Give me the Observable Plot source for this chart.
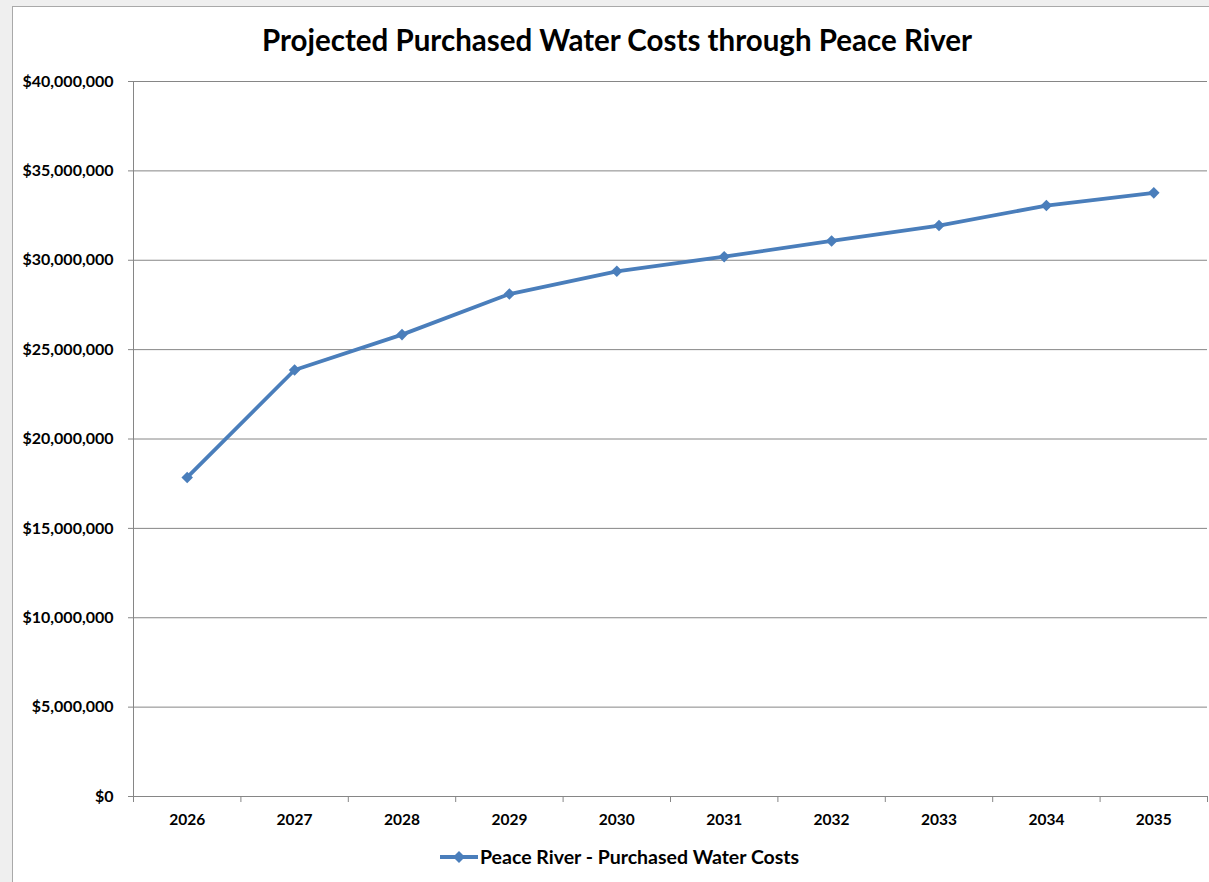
<!DOCTYPE html>
<html>
<head>
<meta charset="utf-8">
<script src="https://cdn.jsdelivr.net/npm/d3@7"></script>
<script src="https://cdn.jsdelivr.net/npm/@observablehq/plot@0.6"></script>
<style>
  html, body { margin: 0; padding: 0; background: #efefef; width: 1209px; height: 882px; overflow: hidden; font-family: Lato, "Open Sans", sans-serif; }
  #panel { position: absolute; left: 12px; top: 6px; width: 1197px; height: 876px; background: #fff; border-left: 1px solid #a9a9a9; border-top: 1px solid #a9a9a9; box-sizing: border-box; }
  #title { position: absolute; left: 6px; width: 1196px; top: 16px; text-align: center; font-weight: 700; font-size: 29.5px; line-height: 34px; color: #000; white-space: nowrap; }
  #chart { position: absolute; left: 0; top: 53px; }
  #legend { position: absolute; left: 427px; top: 838px; display: flex; align-items: center; font-weight: 700; font-size: 19.5px; color: #000; white-space: nowrap; }
  #legend svg { margin-right: 1px; }
</style>
</head>
<body>
<div id="panel">
  <div id="title">Projected Purchased Water Costs through Peace River</div>
  <div id="chart"></div>
  <div id="legend"></div>
</div>
<script>
const years = [2026, 2027, 2028, 2029, 2030, 2031, 2032, 2033, 2034, 2035];
const costs = [17850000, 23860000, 25840000, 28110000, 29380000, 30200000, 31080000, 31940000, 33060000, 33770000];
const yTicks = [0, 5000000, 10000000, 15000000, 20000000, 25000000, 30000000, 35000000, 40000000];
const seriesName = "Peace River - Purchased Water Costs";
const lineColor = "#4a7ebb";
const gridColor = "#868686";

const data = years.map((year, i) => ({year, cost: costs[i]}));
const boundaries = years.map(y => y - 0.5).concat([years[years.length - 1] + 0.5]);

const chart = Plot.plot({
  width: 1196,
  height: 776,
  marginTop: 21,
  marginLeft: 120,
  marginRight: 2,
  marginBottom: 40,
  x: {domain: [boundaries[0], boundaries[boundaries.length - 1]]},
  y: {domain: [0, 40000000]},
  style: {fontFamily: "Lato, 'Open Sans', sans-serif", fontSize: "15px", fontWeight: 700, color: "#000", background: "transparent", overflow: "visible"},
  marks: [
    Plot.gridY(yTicks, {stroke: gridColor, strokeOpacity: 1, strokeWidth: 1}),
    Plot.ruleX([boundaries[0]], {stroke: gridColor, strokeWidth: 1}),
    Plot.axisY(yTicks, {tickSize: 5, tickPadding: 15, stroke: gridColor, fill: "#000", tickFormat: d => "$" + d3.format(",")(d), label: null, fontWeight: 700, fontSize: 16}),
    Plot.axisX(boundaries, {tickSize: 6, stroke: gridColor, tickFormat: () => "", label: null}),
    Plot.axisX(years, {tickSize: 0, tickPadding: 17, fill: "#000", tickFormat: d => String(d), label: null, fontWeight: 700, fontSize: 15.5}),
    Plot.line(data, {x: "year", y: "cost", stroke: lineColor, strokeWidth: 3.8}),
    Plot.dot(data, {x: "year", y: "cost", symbol: "diamond2", r: 5.2, fill: lineColor, stroke: "none"})
  ]
});
document.getElementById("chart").appendChild(chart);

const legend = document.getElementById("legend");
legend.innerHTML = `<svg width="39" height="16"><line x1="0" y1="8" x2="38" y2="8" stroke="${lineColor}" stroke-width="3.8"/><path d="M19,2L25,8L19,14L13,8Z" fill="${lineColor}"/></svg><span>${seriesName}</span>`;
</script>
</body>
</html>
